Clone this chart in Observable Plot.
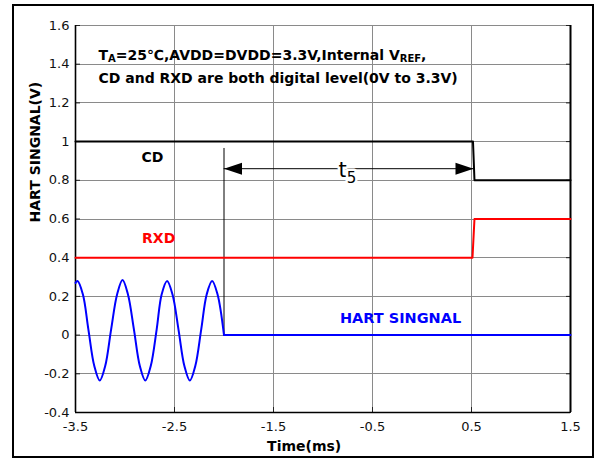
<!DOCTYPE html>
<html><head><meta charset="utf-8">
<script src="https://cdn.jsdelivr.net/npm/d3@7"></script>
<script src="https://cdn.jsdelivr.net/npm/@observablehq/plot@0.6"></script>
<style>
body{margin:0;background:#fff;}
#wrap{position:relative;width:596px;height:459px;overflow:hidden;background:#fff;}
#wrap svg{position:absolute;left:0;top:0;}
#frame{position:absolute;left:12px;top:4px;width:578px;height:450px;border:2px solid #000;pointer-events:none;}
</style></head><body><div id="wrap"><div id="frame"></div></div>
<script>
const xTicks = [-3.5, -2.5, -1.5, -0.5, 0.5, 1.5];
const xGrid = [-2.5, -1.5, -0.5, 0.5];
const yTicks = [-0.4, -0.2, 0, 0.2, 0.4, 0.6, 0.8, 1, 1.2, 1.4, 1.6];
const cdTime = [-3.5, 0.515, 0.53, 1.5];
const cdValue = [1, 1, 0.8, 0.8];
const rxdTime = [-3.5, 0.51, 0.53, 1.5];
const rxdValue = [0.4, 0.4, 0.6, 0.6];
const hartTime = [-3.5, -3.48, -3.425, -3.37, -3.31, -3.255, -3.2, -3.14, -3.08, -3.025, -2.97, -2.91, -2.85, -2.795, -2.74, -2.68, -2.63, -2.575, -2.52, -2.46, -2.40, -2.345, -2.29, -2.23, -2.175, -2.12, -2.065, -2.0];
const hartValue = [0.27, 0.28, 0.21, 0.03, -0.16, -0.235, -0.16, 0.03, 0.21, 0.285, 0.21, 0.03, -0.16, -0.235, -0.16, 0.03, 0.21, 0.28, 0.21, 0.03, -0.16, -0.235, -0.16, 0.03, 0.21, 0.28, 0.21, 0.0];
const hartTailTime = [-2.0, 1.5];
const hartTailValue = [0, 0];
const markerTime = [-2.0, -2.0];
const markerValue = [0.965, 0];
const t5Time = [-2.0, 0.52];
const t5Value = [0.86, 0.86];
const titleLines = ["TA=25\u2103,AVDD=DVDD=3.3V,Internal VREF,", "CD and RXD are both digital level(0V to 3.3V)"];

const zip = (xs, ys) => xs.map((x, i) => ({x, y: ys[i]}));
const cd = zip(cdTime, cdValue), rxd = zip(rxdTime, rxdValue);
const hart = zip(hartTime, hartValue), hartTail = zip(hartTailTime, hartTailValue);
const marker = zip(markerTime, markerValue), t5 = zip(t5Time, t5Value);
// grid lines as two-point paths
const gridH = yTicks.flatMap(v => [{x: xTicks[0], y: v, k: v}, {x: xTicks[xTicks.length - 1], y: v, k: v}]);
const gridV = xGrid.flatMap(v => [{x: v, y: yTicks[0], k: v}, {x: v, y: yTicks[yTicks.length - 1], k: v}]);

const arrowHead = {draw(ctx, size) { ctx.moveTo(0, 0); ctx.lineTo(-18, -6); ctx.lineTo(-18, 6); ctx.closePath(); }};
const fmt = d => String(+d.toFixed(1));

const chart = Plot.plot({
  width: 596, height: 459,
  marginLeft: 75, marginRight: 26, marginTop: 25, marginBottom: 47,
  style: {fontFamily: "DejaVu Sans", fontSize: "13px", background: "transparent", overflow: "visible"},
  x: {domain: [-3.5, 1.5]},
  y: {domain: [-0.4, 1.6]},
  marks: [
    Plot.line(gridH, {x: "x", y: "y", z: "k", stroke: "#8a8a8a", strokeWidth: 1, shapeRendering: "crispEdges"}),
    Plot.line(gridV, {x: "x", y: "y", z: "k", stroke: "#8a8a8a", strokeWidth: 1, shapeRendering: "crispEdges"}),
    Plot.axisY(yTicks, {anchor: "left", tickSize: -5, tickPadding: 11, tickFormat: fmt, label: null, fontSize: 13, fill: "#111", stroke: "#222"}),
    Plot.axisY(yTicks, {anchor: "right", tickSize: -5, tickFormat: () => "", label: null, stroke: "#222"}),
    Plot.axisX(xTicks, {anchor: "bottom", tickSize: -5, tickPadding: 14, tickFormat: fmt, label: null, fontSize: 13, fill: "#111", stroke: "#222"}),
    Plot.ruleX([xTicks[0]], {x: d => d, stroke: "#000", strokeWidth: 1.6}),
    Plot.ruleX([xTicks[xTicks.length - 1]], {x: d => d, stroke: "#000", strokeWidth: 2}),
    Plot.ruleY([yTicks[0]], {y: d => d, stroke: "#000", strokeWidth: 1.6}),
    Plot.line(marker, {x: "x", y: "y", stroke: "#000", strokeWidth: 1}),
    Plot.line(t5, {x: "x", y: "y", stroke: "#000", strokeWidth: 1}),
    Plot.dot([t5[0]], {x: "x", y: "y", symbol: arrowHead, rotate: 180, fill: "#000", stroke: "none"}),
    Plot.dot([t5[1]], {x: "x", y: "y", symbol: arrowHead, rotate: 0, fill: "#000", stroke: "none"}),
    Plot.line(cd, {x: "x", y: "y", stroke: "#000", strokeWidth: 2}),
    Plot.line(rxd, {x: "x", y: "y", stroke: "#ff0000", strokeWidth: 2}),
    Plot.line(hart, {x: "x", y: "y", stroke: "#0000ff", strokeWidth: 2, curve: "catmull-rom"}),
    Plot.line(hartTail, {x: "x", y: "y", stroke: "#0000ff", strokeWidth: 2}),
    Plot.text(["t5"], {x: -0.753, y: 0.86, text: d => d, fontSize: 21, fill: "#000", stroke: "#fff", strokeWidth: 5, textAnchor: "middle", lineAnchor: "middle", dy: 2}),
    Plot.text([titleLines[0]], {x: -3.268, y: 1.445, text: d => d, fontSize: 14, fontWeight: "bold", textAnchor: "start", lineAnchor: "middle", fill: "#000"}),
    Plot.text([titleLines[1]], {x: -3.268, y: 1.325, text: d => d, fontSize: 14, fontWeight: "bold", textAnchor: "start", lineAnchor: "middle", fill: "#000"}),
    Plot.text(["CD"], {x: -2.722, y: 0.918, text: d => d, fontSize: 14, fontWeight: "bold", fill: "#000", lineAnchor: "middle"}),
    Plot.text(["RXD"], {x: -2.66, y: 0.499, text: d => d, fontSize: 14, fontWeight: "bold", fill: "#ff0000", lineAnchor: "middle"}),
    Plot.text(["HART SINGNAL"], {x: -0.217, y: 0.086, text: d => d, fontSize: 14.5, fontWeight: "bold", fill: "#0000ff", lineAnchor: "middle"}),
    Plot.text(["Time(ms)"], {x: -1.19, frameAnchor: "bottom", dy: 34.5, text: d => d, fontSize: 14, fontWeight: "bold", fill: "#000", lineAnchor: "middle"}),
    Plot.text(["HART SINGNAL(V)"], {y: 0.582, frameAnchor: "left", dx: -40, rotate: -90, text: d => d, fontSize: 14, fontWeight: "bold", fill: "#000", lineAnchor: "middle"})
  ]
});
document.getElementById("wrap").prepend(chart);

function subscript(textContent, parts) {
  d3.select(chart).selectAll("text").filter(function() { return this.textContent === textContent; }).each(function() {
    const t = d3.select(this);
    t.text(null);
    parts.forEach(([s, size, dy]) => {
      const ts = t.append("tspan").text(s);
      if (size) ts.attr("font-size", size);
      if (dy) ts.attr("dy", dy);
    });
  });
}
subscript(titleLines[0], [["T"], ["A", 10, 2], ["=25\u2103,AVDD=DVDD=3.3V,Internal V", null, -2], ["REF", 10, 2], [",", null, -2]]);
subscript("t5", [["t"], ["5", 15, 6]]);
</script>
</body></html>
